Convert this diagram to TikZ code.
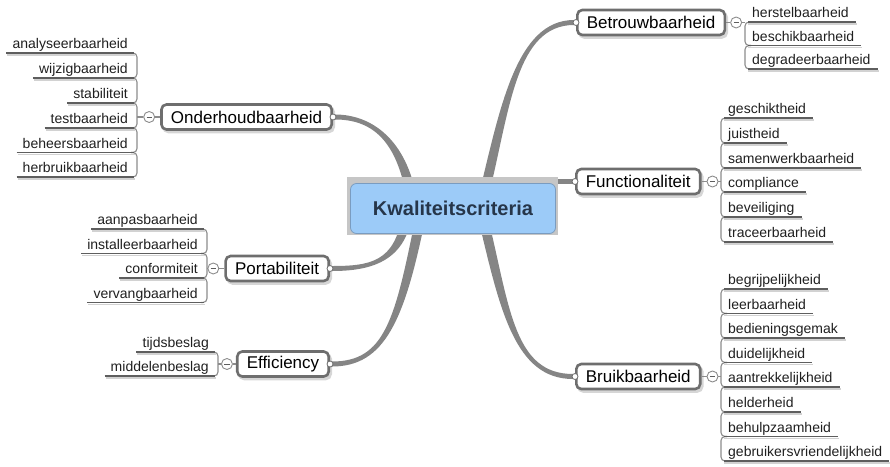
\documentclass[tikz,border=0pt]{standalone}
\usepackage{fontspec}
\setmainfont{Liberation Sans}
\usetikzlibrary{calc}
\definecolor{connc}{HTML}{858585}
\definecolor{nodeb}{HTML}{6E6E6E}
\definecolor{shad}{HTML}{D6D6D6}
\definecolor{ulc}{HTML}{5E5E5E}
\definecolor{uls}{HTML}{D2D2D2}
\definecolor{brc}{HTML}{8C8C8C}
\definecolor{blu}{HTML}{9CCBF8}
\definecolor{blub}{HTML}{7A9CC0}
\definecolor{ktext}{HTML}{26364A}
\definecolor{kfr}{HTML}{C6C6C6}
\pgfdeclarelayer{connlayer}
\pgfsetlayers{connlayer,main}
\newcommand\rleaf[4]{%
  \node[leaf, anchor=base west] (#1) at (#2+7,#3-4.5) {#4};
  \draw[ushadow] (#2+3,#3+2) -- ($(#1.base east)+(8,6.5)$);
  \draw[uline] (#2+3,#3) -- ($(#1.base east)+(7,4.5)$);
}
\newcommand\lleaf[4]{%
  \node[leaf, anchor=base east] (#1) at (#2-9,#3-4.5) {#4};
  \draw[ushadow] ($(#1.base west)+(-5,6.5)$) -- (#2-2,#3+2);
  \draw[uline] ($(#1.base west)+(-6,4.5)$) -- (#2-3,#3);
}
\newcommand\rbr[3]{\draw[brack] (#1+6,#2) -- (#1,#2) -- (#1,#3) -- (#1+6,#3);}
\newcommand\lbr[3]{\draw[brack] (#1-6,#2) -- (#1,#2) -- (#1,#3) -- (#1-6,#3);}
\begin{document}
\begin{tikzpicture}[x=1pt,y=-1pt,
  topic/.style={draw=nodeb, line width=2.6pt, rounded corners=5pt, fill=white,
    minimum height=25pt, inner xsep=9.5pt, inner ysep=2pt,
    font=\fontsize{17}{20}\selectfont, text=black,
    preaction={fill=shad, draw=shad, transform canvas={xshift=2pt,yshift=-2.5pt}}},
  leaf/.style={inner sep=0pt, font=\fontsize{14}{16}\selectfont, text=black!88},
  uline/.style={draw=ulc, line width=1.8pt},
  ushadow/.style={draw=uls, line width=1.6pt},
  brack/.style={draw=brc, line width=1.1pt, rounded corners=4pt},
  knob/.style={circle, draw=nodeb, fill=white, line width=0.8pt, minimum size=6pt, inner sep=0pt},
  collapse/.style={circle, draw=brc, fill=white, line width=0.9pt, minimum size=11pt, inner sep=0pt,
    path picture={\draw[ulc, line width=0.9pt] ([xshift=-2.6pt]path picture bounding box.center) -- ([xshift=2.6pt]path picture bounding box.center);}},
  conn/.style={fill=connc},
  connl/.style={draw=connc, line width=4.5pt},
  kframe/.style={rectangle, fill=kfr, minimum width=211pt, minimum height=58pt, inner sep=0pt},
  kmain/.style={rectangle, rounded corners=6pt, fill=blu, draw=blub, line width=0.8pt,
    minimum width=205pt, minimum height=50pt, font=\fontsize{20}{24}\selectfont\bfseries, text=ktext}
]
\useasboundingbox (0,0) rectangle (890,466);

% central topic
\node[kframe] (Kf) at (452.5,206) {};
\node[kmain] (K) at (453,208.5) {Kwaliteitscriteria};

% main topics
\node[topic, anchor=west] (B) at (576,22.5) {Betrouwbaarheid};
\node[topic, anchor=west] (F) at (575,181.5) {Functionaliteit};
\node[topic, anchor=west] (Br) at (575,376.5) {Bruikbaarheid};
\node[topic, anchor=east] (O) at (333,117) {Onderhoudbaarheid};
\node[topic, anchor=east] (P) at (330,268.5) {Portabiliteit};
\node[topic, anchor=east] (E) at (330,364) {Efficiency};

% connectors
\begin{pgfonlayer}{connlayer}
\coordinate (sB) at ($(K.center)+(31,-14.5)$);
\coordinate (sBr) at ($(K.center)+(31,13.5)$);
\coordinate (sO) at ($(K.center)+(-41,-8.5)$);
\coordinate (sP) at ($(K.center)+(-46,6.5)$);
\coordinate (sE) at ($(K.center)+(-32,6.5)$);
\fill[conn] ($(sB)+(-5,0)$) .. controls ($(sB)+(16,-85)$) and ($(B.west)+(-60,-2.5)$) .. ($(B.west)+(-2,-2.5)$)
  -- ($(B.west)+(-2,2.5)$) .. controls ($(B.west)+(-60,2.5)$) and ($(sB)+(26,-85)$) .. ($(sB)+(5,0)$) -- cycle;
\fill[conn] ($(sBr)+(-5,0)$) .. controls ($(sBr)+(16,88)$) and ($(Br.west)+(-60,2.5)$) .. ($(Br.west)+(-2,2.5)$)
  -- ($(Br.west)+(-2,-2.5)$) .. controls ($(Br.west)+(-60,-2.5)$) and ($(sBr)+(26,88)$) .. ($(sBr)+(5,0)$) -- cycle;
\fill[conn] ($(sO)+(5,0)$) .. controls ($(sO)+(-5,-60)$) and ($(O.east)+(39,-2.5)$) .. ($(O.east)+(2,-2.5)$)
  -- ($(O.east)+(2,2.5)$) .. controls ($(O.east)+(39,2.5)$) and ($(sO)+(-15,-60)$) .. ($(sO)+(-5,0)$) -- cycle;
\fill[conn] ($(sP)+(5,0)$) .. controls ($(sP)+(-2,47)$) and ($(P.east)+(40,2.5)$) .. ($(P.east)+(2,2.5)$)
  -- ($(P.east)+(2,-2.5)$) .. controls ($(P.east)+(40,-2.5)$) and ($(sP)+(-12,47)$) .. ($(sP)+(-5,0)$) -- cycle;
\fill[conn] ($(sE)+(5,0)$) .. controls ($(sE)+(-16,105)$) and ($(E.east)+(55,2.5)$) .. ($(E.east)+(2,2.5)$)
  -- ($(E.east)+(2,-2.5)$) .. controls ($(E.east)+(55,-2.5)$) and ($(sE)+(-26,105)$) .. ($(sE)+(-5,0)$) -- cycle;
\draw[connl] (Kf.east |- F.west) -- (F.west);
\end{pgfonlayer}

% knobs
\foreach \n in {B,F,Br} {\node[knob] at (\n.west) {};}
\foreach \n in {O,P,E} {\node[knob] at (\n.east) {};}

% collapse buttons and ticks
\node[collapse] (Bm) at ($(B.east)+(10,0)$) {};
\node[collapse] (Fm) at ($(F.east)+(11,0)$) {};
\node[collapse] (Brm) at ($(Br.east)+(11,0)$) {};
\node[collapse] (Om) at ($(O.west)+(-11,0)$) {};
\node[collapse] (Pm) at ($(P.west)+(-11,0)$) {};
\node[collapse] (Em) at ($(E.west)+(-9,0)$) {};
\coordinate (Bb) at (745,22.5);
\coordinate (Fb) at (721,181.5);
\coordinate (Brb) at (721,376.5);
\coordinate (Ob) at (137,117);
\coordinate (Pb) at (207,268.5);
\coordinate (Eb) at (218,364);
\foreach \n/\m/\b in {B/Bm/Bb,F/Fm/Fb,Br/Brm/Brb}{
  \draw[brack] (\n.east) -- (\m.west);
  \draw[brack] (\m.east) -- (\b);
}
\foreach \n/\m/\b in {O/Om/Ob,P/Pm/Pb,E/Em/Eb}{
  \draw[brack] (\n.west) -- (\m.east);
  \draw[brack] (\m.west) -- (\b);
}

% brackets
\foreach \a/\b in {22/45.5,45.5/69} {\rbr{745}{\a}{\b}}
\foreach \a/\b in {118/143,143/168,168/192,192/217,217/242} {\rbr{721}{\a}{\b}}
\foreach \a/\b in {289/313.5,313.5/338,338/362.5,362.5/387,387/412,412/436.5,436.5/461} {\rbr{721}{\a}{\b}}
\foreach \a/\b in {53/78,78/103,103/128,128/152.5,152.5/177} {\lbr{137}{\a}{\b}}
\foreach \a/\b in {229/253.5,253.5/278,278/302.5} {\lbr{207}{\a}{\b}}
\lbr{218}{352}{376}

% leaves: Betrouwbaarheid
\rleaf{b1}{745}{22}{herstelbaarheid}
\rleaf{b2}{745}{45.5}{beschikbaarheid}
\rleaf{b3}{745}{69}{degradeerbaarheid}
% Functionaliteit
\rleaf{f1}{721}{118}{geschiktheid}
\rleaf{f2}{721}{143}{juistheid}
\rleaf{f3}{721}{168}{samenwerkbaarheid}
\rleaf{f4}{721}{192}{compliance}
\rleaf{f5}{721}{217}{beveiliging}
\rleaf{f6}{721}{242}{traceerbaarheid}
% Bruikbaarheid
\rleaf{u1}{721}{289}{begrijpelijkheid}
\rleaf{u2}{721}{313.5}{leerbaarheid}
\rleaf{u3}{721}{338}{bedieningsgemak}
\rleaf{u4}{721}{362.5}{duidelijkheid}
\rleaf{u5}{721}{387}{aantrekkelijkheid}
\rleaf{u6}{721}{412}{helderheid}
\rleaf{u7}{721}{436.5}{behulpzaamheid}
\rleaf{u8}{721}{461}{gebruikersvriendelijkheid}
% Onderhoudbaarheid
\lleaf{o1}{137}{53}{analyseerbaarheid}
\lleaf{o2}{137}{78}{wijzigbaarheid}
\lleaf{o3}{137}{103}{stabiliteit}
\lleaf{o4}{137}{128}{testbaarheid}
\lleaf{o5}{137}{152.5}{beheersbaarheid}
\lleaf{o6}{137}{177}{herbruikbaarheid}
% Portabiliteit
\lleaf{p1}{207}{229}{aanpasbaarheid}
\lleaf{p2}{207}{253.5}{installeerbaarheid}
\lleaf{p3}{207}{278}{conformiteit}
\lleaf{p4}{207}{302.5}{vervangbaarheid}
% Efficiency
\lleaf{e1}{218}{352}{tijdsbeslag}
\lleaf{e2}{218}{376}{middelenbeslag}
\end{tikzpicture}
\end{document}
